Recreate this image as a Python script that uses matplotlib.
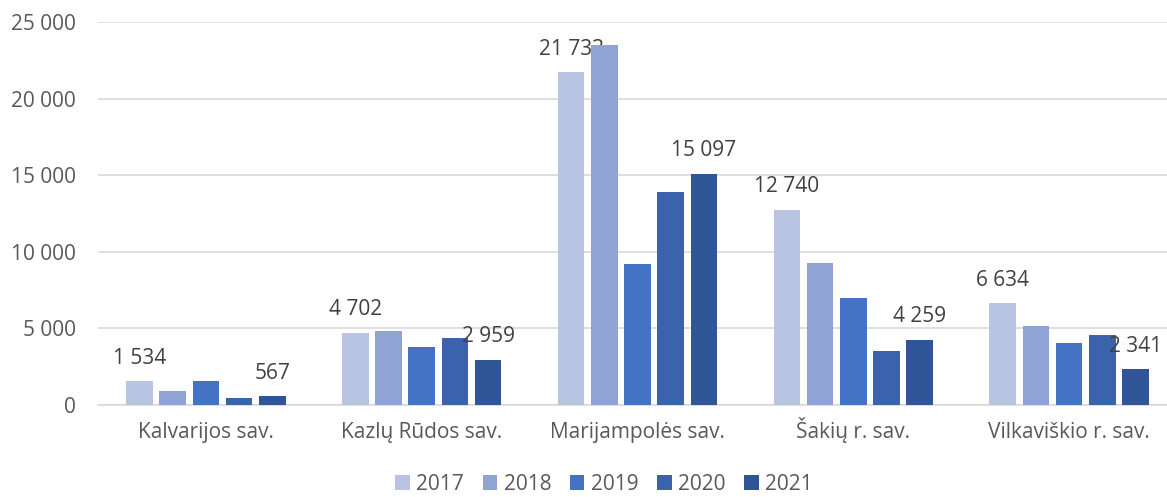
import numpy as np
import matplotlib
matplotlib.use("Agg")
import matplotlib.pyplot as plt
from matplotlib.ticker import FuncFormatter

plt.rcParams['font.family'] = ['Open Sans', 'DejaVu Sans']

municipalities = ["Kalvarijos sav.", "Kazlų Rūdos sav.", "Marijampolės sav.",
                  "Šakių r. sav.", "Vilkaviškio r. sav."]
years = ["2017", "2018", "2019", "2020", "2021"]

v2017 = [1534, 4702, 21733, 12740, 6634]
v2018 = [890, 4830, 23480, 9240, 5170]
v2019 = [1590, 3780, 9200, 6980, 4060]
v2020 = [480, 4390, 13900, 3520, 4550]
v2021 = [567, 2959, 15097, 4259, 2341]

series = [v2017, v2018, v2019, v2020, v2021]
colors = ["#B9C3E2", "#8FA3D4", "#4472C4", "#3A63AB", "#2F5597"]
labelled = {"2017", "2021"}

def space_thousands(v, pos=None):
    return f"{int(round(v)):,}".replace(",", " ")

fig = plt.figure(figsize=(11.67, 4.97), dpi=100)
ax = fig.add_axes([98 / 1167, 1 - 405 / 497, 1079 / 1167, 383 / 497])

x = np.arange(len(municipalities))
pitch = 0.154
width = 0.1235
for i, (yr, vals) in enumerate(zip(years, series)):
    pos = x + (i - 2) * pitch
    bars = ax.bar(pos, vals, width, color=colors[i], label=yr, zorder=3)
    if yr in labelled:
        for b, v in zip(bars, vals):
            ax.annotate(space_thousands(v), (b.get_x() + b.get_width() / 2, v),
                        xytext=(0, 9), textcoords="offset points",
                        ha="center", va="bottom", fontsize=15, color="#404040")

ax.set_xlim(-0.5, len(municipalities) - 0.5)
ax.set_ylim(0, 25000)
ax.set_yticks(range(0, 25001, 5000))
ax.yaxis.set_major_formatter(FuncFormatter(space_thousands))
ax.set_xticks(x)
ax.set_xticklabels(municipalities)
ax.tick_params(axis="both", length=0, labelsize=15, colors="#595959")
ax.tick_params(axis="x", pad=24)
ax.tick_params(axis="y", pad=16)
for lbl in ax.get_xticklabels():
    lbl.set_verticalalignment("baseline")
for lbl in ax.get_yticklabels():
    lbl.set_horizontalalignment("right")

ax.grid(axis="y", color="#D9D9D9", linewidth=1.2, zorder=0)
for s in ["top", "right", "left"]:
    ax.spines[s].set_visible(False)
ax.spines["bottom"].set_color("#D9D9D9")
ax.spines["bottom"].set_linewidth(1.2)

fig.legend(loc="center", bbox_to_anchor=(604 / 1167, 1 - 484 / 497), ncol=5,
           frameon=False, fontsize=15, handlelength=0.7, handleheight=0.7,
           handletextpad=0.3, columnspacing=0.9, labelcolor="#595959",
           borderpad=0.2)

fig.savefig("out.png", dpi=100)
